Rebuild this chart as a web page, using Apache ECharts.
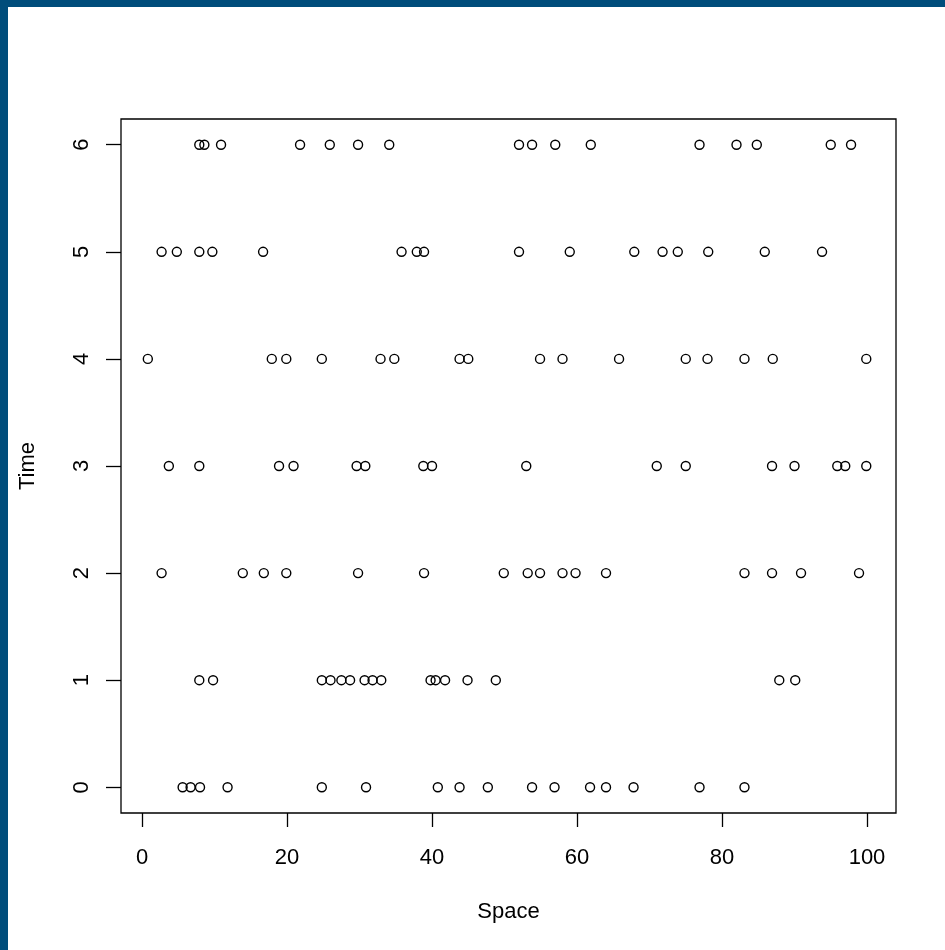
<!DOCTYPE html>
<html>
<head>
<meta charset="utf-8">
<script src="https://cdn.jsdelivr.net/npm/echarts@6/dist/echarts.min.js"></script>
<style>
html,body{margin:0;padding:0;background:#fff;}
#chart{width:945px;height:950px;}
</style>
</head>
<body>
<div id="chart"></div>
<script>
// Space positions of events at each time step
var time0 = [5.6, 6.7, 8.0, 11.8, 24.8, 30.9, 40.8, 43.8, 47.7, 53.8, 56.9, 61.8, 64.0, 67.8, 76.9, 83.1];
var time1 = [7.9, 9.8, 24.8, 26.0, 27.5, 28.7, 30.7, 31.8, 33.0, 39.8, 40.5, 41.8, 44.9, 48.8, 87.9, 90.1];
var time2 = [2.7, 13.9, 16.8, 19.9, 29.8, 38.9, 49.9, 53.2, 54.9, 58.0, 59.8, 64.0, 83.1, 86.9, 90.9, 98.9];
var time3 = [3.7, 7.9, 18.9, 20.9, 29.6, 30.8, 38.8, 40.0, 53.0, 71.0, 75.0, 86.9, 90.0, 95.9, 97.0, 99.9];
var time4 = [0.8, 17.9, 19.9, 24.8, 32.9, 34.8, 43.8, 45.0, 54.9, 58.0, 65.8, 75.0, 78.0, 83.1, 87.0, 99.9];
var time5 = [2.7, 4.8, 7.9, 9.7, 16.7, 35.8, 37.9, 38.9, 52.0, 59.0, 67.9, 71.8, 73.9, 78.1, 85.9, 93.8];
var time6 = [7.9, 8.6, 10.9, 21.8, 25.9, 29.8, 34.1, 52.0, 53.8, 57.0, 61.9, 76.9, 82.0, 84.8, 95.0, 97.8];

var xTicks = [0, 20, 40, 60, 80, 100];
var yTicks = [0, 1, 2, 3, 4, 5, 6];

var rows = [time0, time1, time2, time3, time4, time5, time6];
var points = [];
rows.forEach(function (row, t) {
  row.forEach(function (s) { points.push([s, t]); });
});

var font = 'Liberation Sans, Arial, sans-serif';
var chart = echarts.init(document.getElementById('chart'), null, {renderer: 'canvas'});
chart.setOption({
  animation: false,
  backgroundColor: '#ffffff',
  graphic: [
    {type: 'rect', left: 0, top: 0, shape: {width: 8, height: 950}, style: {fill: '#004d7b'}, z: 100},
    {type: 'rect', left: 0, top: 0, shape: {width: 945, height: 7}, style: {fill: '#004d7b'}, z: 100}
  ],
  grid: {
    left: 121, top: 119, width: 775, height: 694,
    show: true, borderColor: '#000', borderWidth: 1.3, backgroundColor: 'transparent'
  },
  xAxis: {
    type: 'value', min: -2.9, max: 104,
    name: 'Space', nameLocation: 'middle', nameGap: 88,
    nameTextStyle: {color: '#000', fontSize: 22, fontFamily: font},
    axisLine: {show: false, onZero: false},
    splitLine: {show: false},
    axisTick: {show: true, inside: false, length: 14, customValues: xTicks, lineStyle: {color: '#000', width: 1.3}},
    axisLabel: {show: true, customValues: xTicks, margin: 34, color: '#000', fontSize: 22, fontFamily: font}
  },
  yAxis: {
    type: 'value', min: -0.24, max: 6.24,
    name: 'Time', nameLocation: 'middle', nameGap: 82, nameRotate: 90,
    nameTextStyle: {color: '#000', fontSize: 22, fontFamily: font},
    axisLine: {show: false, onZero: false},
    splitLine: {show: false},
    axisTick: {show: true, inside: false, length: 15, customValues: yTicks, lineStyle: {color: '#000', width: 1.3}},
    axisLabel: {show: true, customValues: yTicks, rotate: 90, margin: 28, color: '#000', fontSize: 22, fontFamily: font}
  },
  series: [{
    type: 'scatter',
    data: points,
    symbol: 'circle',
    symbolSize: 9,
    itemStyle: {color: 'rgba(255,255,255,0)', borderColor: '#000', borderWidth: 1.4, opacity: 1},
    emphasis: {disabled: true}
  }]
});
</script>
</body>
</html>
